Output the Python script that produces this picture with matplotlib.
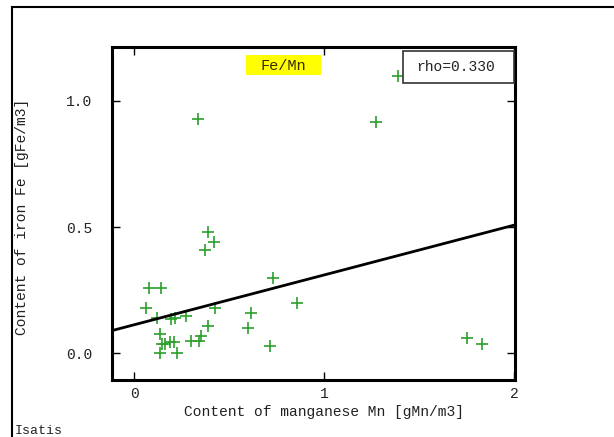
import matplotlib
matplotlib.use("Agg")
import matplotlib.pyplot as plt
from matplotlib.patches import Rectangle
from matplotlib.lines import Line2D
import numpy as np

# ---- data ----
mn = [0.386, 0.421, 0.374, 0.079, 0.139, 0.732, 0.855, 0.060, 0.425, 0.118,
      0.193, 0.214, 0.272, 0.614, 0.386, 0.597, 0.137, 0.349, 0.341, 0.298,
      0.146, 0.163, 0.190, 0.210, 0.716, 0.137, 0.223, 0.337, 1.390, 1.272,
      1.749, 1.832]
fe = [0.480, 0.440, 0.408, 0.258, 0.258, 0.298, 0.199, 0.178, 0.178, 0.139,
      0.136, 0.139, 0.149, 0.158, 0.108, 0.100, 0.078, 0.069, 0.050, 0.047,
      0.038, 0.038, 0.046, 0.046, 0.030, 0.000, 0.000, 0.929, 1.099, 0.918,
      0.059, 0.037]
fit_intercept = 0.113
fit_slope = 0.1975
rho_text = "rho=0.330"
title_text = "Fe/Mn"
xlabel = "Content of manganese Mn [gMn/m3]"
ylabel = "Content of iron Fe [gFe/m3]"
xticks = [0, 1, 2]
yticks = [0.0, 0.5, 1.0]
ytick_labels = ["0.0", "0.5", "1.0"]

W, H = 614, 437
fig = plt.figure(figsize=(W / 100, H / 100), dpi=100)
def fx(px): return px / W
def fy(py): return 1 - py / H

FONT = "Liberation Mono"
TXT = "#222222"

ax = fig.add_axes([fx(112), fy(380), fx(515) - fx(112), fy(47) - fy(380)])
ax.set_xlim(-0.117, 2.004)
ax.set_ylim(-0.106, 1.214)

ax.plot(mn, fe, linestyle="none", marker="+", markersize=9, markeredgewidth=1.2,
        color="#2ca02c", zorder=3)
xl = np.array(ax.get_xlim())
ax.plot(xl, fit_intercept + fit_slope * xl, color="black", lw=2.0, zorder=4)

for s in ax.spines.values():
    s.set_linewidth(2.2)
    s.set_color("black")

ax.set_xticks(xticks)
ax.set_xticklabels([str(t) for t in xticks])
ax.set_yticks(yticks)
ax.set_yticklabels(ytick_labels)
ax.tick_params(direction="in", length=6, width=1, top=True, right=True,
               colors="black", labelcolor=TXT)
ax.tick_params(axis="x", pad=5)
ax.tick_params(axis="y", pad=14)
for lab in ax.get_xticklabels() + ax.get_yticklabels():
    lab.set_fontfamily(FONT)
    lab.set_fontsize(10.5)

ax.set_xlabel(xlabel, fontfamily=FONT, fontsize=10.5, color=TXT)
ax.xaxis.set_label_coords((324.5 - 112) / 403, (380 - 405) / 333)
ax.set_ylabel(ylabel, fontfamily=FONT, fontsize=10.5, color=TXT)
ax.yaxis.set_label_coords((29 - 112) / 403, (380 - 217) / 333)

# title box
fig.patches.append(Rectangle((fx(246), fy(75)), fx(321) - fx(246), fy(55) - fy(75),
                             transform=fig.transFigure, facecolor="#ffff00",
                             edgecolor="none", zorder=5))
fig.text(fx(283.5), fy(65.5), title_text, ha="center", va="center",
         fontfamily=FONT, fontsize=11, color="#3a2a00", zorder=6)

# rho box
fig.patches.append(Rectangle((fx(403), fy(83)), fx(514) - fx(403), fy(51) - fy(83),
                             transform=fig.transFigure, facecolor="white",
                             edgecolor="#333333", linewidth=1.2, zorder=5))
fig.text(fx(455.5), fy(67), rho_text, ha="center", va="center",
         fontfamily=FONT, fontsize=10.5, color=TXT, zorder=6)

# outer frame
fig.lines.append(Line2D([fx(12), fx(12)], [fy(7), 0], transform=fig.transFigure,
                        color="black", lw=1.5))
fig.lines.append(Line2D([fx(12), 1], [fy(7), fy(7)], transform=fig.transFigure,
                        color="black", lw=1.5))

fig.text(fx(15), fy(431), "Isatis", ha="left", va="center",
         fontfamily=FONT, fontsize=9.5, color=TXT)

fig.savefig("out.png", dpi=100)
